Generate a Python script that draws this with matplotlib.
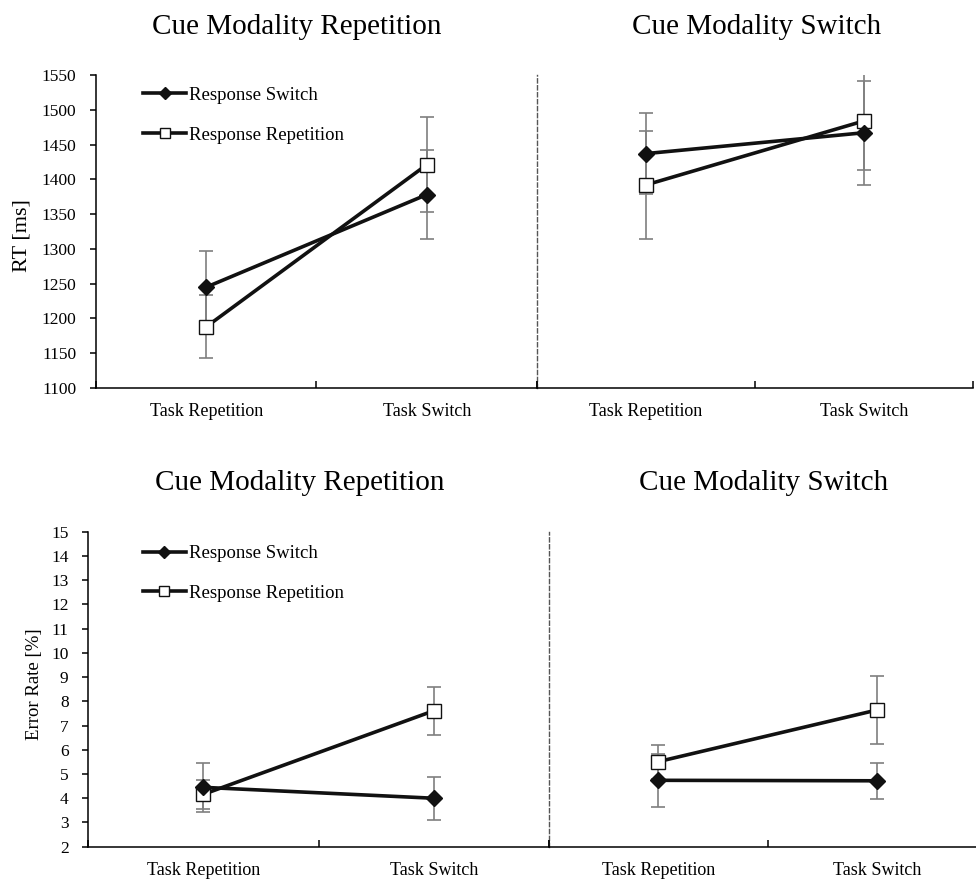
import numpy as np
import matplotlib.pyplot as plt
from matplotlib.lines import Line2D

plt.rcParams['font.family'] = ['Liberation Serif', 'DejaVu Serif']

categories = ['Task Repetition', 'Task Switch']
titles = ['Cue Modality Repetition', 'Cue Modality Switch']

# RT [ms]: left = cue modality repetition, right = cue modality switch
rt_resp_switch = [[1245, 1378], [1437, 1467]]
rt_resp_switch_err = [[52, 64], [58, 75]]
rt_resp_rep = [[1188, 1421], [1392, 1484]]
rt_resp_rep_err = [[45, 68], [78, 70]]

# Error rate [%]
er_resp_switch = [[4.45, 4.0], [4.74, 4.72]]
er_resp_switch_err = [[1.0, 0.88], [1.1, 0.74]]
er_resp_rep = [[4.16, 7.61], [5.51, 7.64]]
er_resp_rep_err = [[0.6, 1.0], [0.7, 1.4]]

W, H = 976, 881
fig = plt.figure(figsize=(W / 100, H / 100), dpi=100)


def px(x0, y0, x1, y1):
    return [x0 / W, 1 - y1 / H, (x1 - x0) / W, (y1 - y0) / H]


rows = [
    dict(boxes=[px(96, 75, 537, 388), px(537, 75, 973, 388)],
         sw=rt_resp_switch, swe=rt_resp_switch_err, rp=rt_resp_rep, rpe=rt_resp_rep_err,
         ylim=(1100, 1550), yticks=np.arange(1100, 1551, 50), ylabel='RT [ms]', ylabsize=16,
         ylabpos=(22, 236), titley=27, titlex=[297, 757], legpos=(0.107, 0.962)),
    dict(boxes=[px(88, 531.7, 549, 846.7), px(549, 531.7, 986, 846.7)],
         sw=er_resp_switch, swe=er_resp_switch_err, rp=er_resp_rep, rpe=er_resp_rep_err,
         ylim=(2, 15), yticks=np.arange(2, 16, 1), ylabel='Error Rate [%]', ylabsize=13.5,
         ylabpos=(35, 684), titley=483, titlex=[300, 764], legpos=(0.119, 0.957)),
]

x = np.array([0.5, 1.5])
for r in rows:
    for k in range(2):
        ax = fig.add_axes(r['boxes'][k])
        ax.patch.set_visible(False)
        ax.errorbar(x, r['sw'][k], yerr=r['swe'][k], fmt='none', ecolor='#7f7f7f',
                    elinewidth=1.2, capsize=5, capthick=1.2, zorder=2)
        ax.errorbar(x, r['rp'][k], yerr=r['rpe'][k], fmt='none', ecolor='#7f7f7f',
                    elinewidth=1.2, capsize=5, capthick=1.2, zorder=2)
        ax.plot(x, r['rp'][k], color='#111111', lw=2.6, marker='s', ms=10,
                mfc='white', mec='#111111', mew=1.0, zorder=3)
        ax.plot(x, r['sw'][k], color='#111111', lw=2.6, marker='D', ms=8.5,
                mfc='#111111', mec='#111111', zorder=4)
        ax.set_xlim(0, 2)
        ax.set_ylim(*r['ylim'])
        ax.spines['top'].set_visible(False)
        ax.spines['bottom'].set_linewidth(1.1)
        ax.set_xticks([0, 1, 2])
        ax.set_xticklabels([])
        ax.tick_params(axis='x', which='major', direction='in', length=5, width=1.1)
        ax.set_xticks(x, categories, minor=True)
        ax.tick_params(axis='x', which='minor', length=0, pad=11, labelsize=13)
        if k == 0:
            ax.spines['left'].set_linewidth(1.1)
            ax.spines['right'].set_linestyle((0, (3, 2)))
            ax.spines['right'].set_color('#555555')
            ax.spines['right'].set_linewidth(1.0)
            ax.set_yticks(r['yticks'])
            ax.tick_params(axis='y', direction='out', length=4, width=1.1, pad=10, labelsize=12.5)
            handles = [Line2D([], [], color='#111111', lw=2.6, marker='D', ms=6, mfc='#111111'),
                       Line2D([], [], color='#111111', lw=2.6, marker='s', ms=7, mfc='white',
                              mec='#111111', mew=1.0)]
            ax.legend(handles, ['Response Switch', 'Response Repetition'], loc='upper left',
                      bbox_to_anchor=r['legpos'], frameon=False, fontsize=13.5,
                      handlelength=2.3, handletextpad=0.15, labelspacing=1.2,
                      borderpad=0, borderaxespad=0)
        else:
            ax.spines['left'].set_visible(False)
            ax.spines['right'].set_visible(False)
            ax.set_yticks([])
        fig.text(r['titlex'][k] / W, 1 - r['titley'] / H, titles[k], ha='center', va='center',
                 fontsize=21)
    fig.text(r['ylabpos'][0] / W, 1 - r['ylabpos'][1] / H, r['ylabel'], rotation=90,
             ha='center', va='center', fontsize=r['ylabsize'])

fig.savefig('out.png', dpi=100)
